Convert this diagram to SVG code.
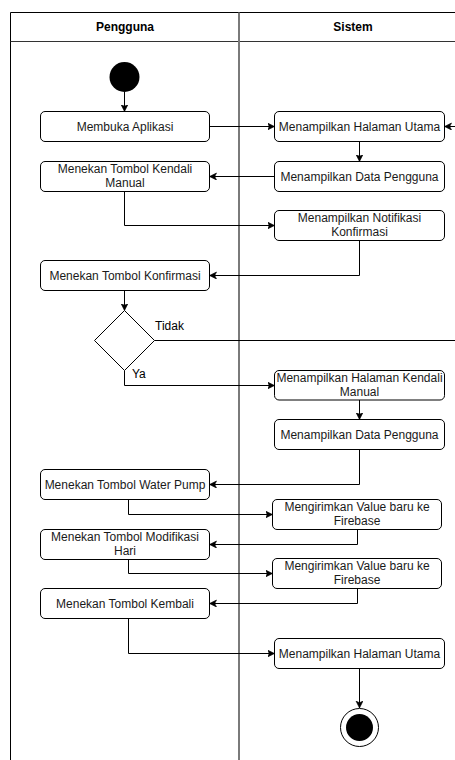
<svg xmlns="http://www.w3.org/2000/svg" width="455" height="760" viewBox="0 0 455 760">
<defs>
<style>
.lane{fill:none;stroke:#000;stroke-width:1}
.hdr{fill:none;stroke:#333;stroke-width:1}
.div{fill:none;stroke:#7a7a7a;stroke-width:2}
.box{fill:#fff;stroke:#000;stroke-width:1}
.t{font-family:"Liberation Sans",Arial,sans-serif;font-size:12px;fill:#1a1a1a;text-anchor:middle}
.h{font-family:"Liberation Sans",Arial,sans-serif;font-size:12px;font-weight:bold;fill:#000;text-anchor:middle}
.l{font-family:"Liberation Sans",Arial,sans-serif;font-size:12px;fill:#000}
.c{fill:none;stroke:#000;stroke-width:1;marker-end:url(#arr)}
</style>
<marker id="arr" markerUnits="userSpaceOnUse" markerWidth="9" markerHeight="9" refX="7" refY="3.5" orient="auto">
<path d="M0,0 L7,3.5 L0,7 L1.8,3.5 z" fill="#000" stroke="#000" stroke-width="0.6"/>
</marker>
</defs>
<rect width="455" height="760" fill="#fff"/>
<g id="pool">
<path class="lane" d="M10.5,770 V12.5 H470"/>
<path class="hdr" d="M10.5,41.5 H470"/>
<path class="div" d="M239,12.5 V770"/>
<text class="h" x="125" y="31">Pengguna</text>
<text class="h" x="353" y="31">Sistem</text>
</g>
<g id="connectors">
<path class="c" d="M124.5,92 V111.5"/>
<path class="c" d="M209.5,126.5 H274.5"/>
<path class="c" d="M154.5,340.5 H470 V126.5 H444.5"/>
<path class="c" d="M359.5,141.5 V161.5"/>
<path class="c" d="M274.5,176.5 H209.5"/>
<path class="c" d="M124.5,191.5 V225.5 H274.5"/>
<path class="c" d="M359.5,240.5 V275.5 H209.5"/>
<path class="c" d="M124.5,290.5 V310.5"/>
<path class="c" d="M124.5,370.5 V385.5 H274.5"/>
<path class="c" d="M359.5,400 V419.5"/>
<path class="c" d="M359.5,449.5 V484.5 H209.5"/>
<path class="c" d="M128.5,499.5 V514.5 H272.5"/>
<path class="c" d="M357.5,529.5 V544.5 H209.5"/>
<path class="c" d="M128.5,559.5 V573.5 H272.5"/>
<path class="c" d="M357.5,588.5 V603.5 H209.5"/>
<path class="c" d="M128.5,618.5 V653.5 H274.5"/>
<path class="c" d="M359.5,668.5 V708"/>
<text class="l" x="155" y="330">Tidak</text>
<text class="l" x="132" y="378">Ya</text>
</g>
<g id="start"><circle cx="124.5" cy="77" r="15" fill="#000"/></g>
<g id="n1"><rect class="box" x="40.5" y="111.5" width="169" height="30" rx="4.5"/><text class="t" x="125" y="131">Membuka Aplikasi</text></g>
<g id="n2"><rect class="box" x="274.5" y="111.5" width="170" height="30" rx="4.5"/><text class="t" x="359.5" y="131">Menampilkan Halaman Utama</text></g>
<g id="n3"><rect class="box" x="274.5" y="161.5" width="170" height="30" rx="4.5"/><text class="t" x="359.5" y="181">Menampilkan Data Pengguna</text></g>
<g id="n4"><rect class="box" x="40.5" y="161.5" width="169" height="30" rx="4.5"/><text class="t" x="125" y="173">Menekan Tombol Kendali</text><text class="t" x="125" y="187">Manual</text></g>
<g id="n5"><rect class="box" x="274.5" y="210.5" width="170" height="30" rx="4.5"/><text class="t" x="359.5" y="222">Menampilkan Notifikasi</text><text class="t" x="359.5" y="236">Konfirmasi</text></g>
<g id="n6"><rect class="box" x="40.5" y="260.5" width="169" height="30" rx="4.5"/><text class="t" x="125" y="280">Menekan Tombol Konfirmasi</text></g>
<g id="decision"><path class="box" d="M124.5,310.5 L154.5,340.5 L124.5,370.5 L94.5,340.5 Z"/></g>
<g id="n7"><rect class="box" x="274.5" y="370.5" width="170" height="29.5" rx="4.5"/><text class="t" x="359.5" y="382">Menampilkan Halaman Kendali</text><text class="t" x="359.5" y="396">Manual</text></g>
<g id="n8"><rect class="box" x="274.5" y="419.5" width="170" height="30" rx="4.5"/><text class="t" x="359.5" y="439">Menampilkan Data Pengguna</text></g>
<g id="n9"><rect class="box" x="40.5" y="469.5" width="169" height="30" rx="4.5"/><text class="t" x="125" y="489">Menekan Tombol Water Pump</text></g>
<g id="n10"><rect class="box" x="272.5" y="499.5" width="169" height="30" rx="4.5"/><text class="t" x="357" y="511">Mengirimkan Value baru ke</text><text class="t" x="357" y="525">Firebase</text></g>
<g id="n11"><rect class="box" x="40.5" y="529.5" width="169" height="30" rx="4.5"/><text class="t" x="125" y="541">Menekan Tombol Modifikasi</text><text class="t" x="125" y="555">Hari</text></g>
<g id="n12"><rect class="box" x="272.5" y="558.5" width="169" height="30" rx="4.5"/><text class="t" x="357" y="570">Mengirimkan Value baru ke</text><text class="t" x="357" y="584">Firebase</text></g>
<g id="n13"><rect class="box" x="40.5" y="588.5" width="169" height="30" rx="4.5"/><text class="t" x="125" y="608">Menekan Tombol Kembali</text></g>
<g id="n14"><rect class="box" x="274.5" y="638.5" width="170" height="30" rx="4.5"/><text class="t" x="359.5" y="658">Menampilkan Halaman Utama</text></g>
<g id="end"><circle cx="359.5" cy="727.5" r="19" fill="#fff" stroke="#000" stroke-width="1"/><circle cx="359.5" cy="727.5" r="13.5" fill="#000"/></g>
</svg>
